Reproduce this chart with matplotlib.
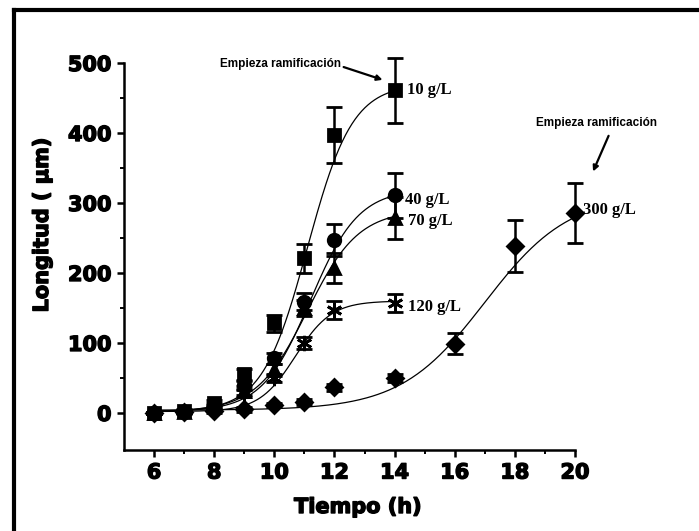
import numpy as np
import matplotlib
matplotlib.use("Agg")
import matplotlib.pyplot as plt
import matplotlib.patheffects as pe
from matplotlib.lines import Line2D

# sampling times (h)
t_short = [6, 7, 8, 9, 10, 11, 12, 14]
t_long = [6, 7, 8, 9, 10, 11, 12, 14, 16, 18, 20]

# hyphal length (um) and error, one list per sugar concentration
len_10 = [0, 3, 14, 55, 128, 221, 397, 461]
err_10 = [2, 3, 5, 8, 12, 21, 40, 46]
len_40 = [0, 2, 10, 40, 78, 159, 247, 311]
err_40 = [2, 2, 4, 6, 8, 12, 23, 32]
len_70 = [0, 2, 8, 32, 62, 150, 207, 278]
err_70 = [2, 2, 4, 6, 8, 12, 22, 30]
len_120 = [0, 2, 7, 28, 50, 100, 147, 157]
err_120 = [2, 2, 3, 5, 6, 8, 13, 13]
len_300 = [0, 1, 3, 5, 11, 16, 37, 50, 99, 238, 286]
err_300 = [2, 2, 2, 3, 3, 4, 5, 6, 15, 37, 43]

labels = ["10 g/L", "40 g/L", "70 g/L", "120 g/L", "300 g/L"]

# Boltzmann fit parameters: bottom, top, x0, dx
fit_10 = [2, 470, 11.1, 0.75]
fit_40 = [2, 320, 11.2, 0.8]
fit_70 = [2, 290, 11.1, 0.85]
fit_120 = [2, 160, 10.7, 0.6]
fit_300 = [4, 312, 17.0, 1.4]


def boltzmann(x, p):
    a1, a2, x0, dx = p
    return a2 + (a1 - a2) / (1 + np.exp((x - x0) / dx))


fig = plt.figure(figsize=(6.99, 5.31), dpi=100)
ax = fig.add_axes([0.1774, 0.1525, 0.6452, 0.7288])

series = [
    (t_short, len_10, err_10, fit_10, "s", 8),
    (t_short, len_40, err_40, fit_40, "o", 9),
    (t_short, len_70, err_70, fit_70, "^", 9),
    (t_short, len_120, err_120, fit_120, (6, 2, 0), 11),
    (t_long, len_300, err_300, fit_300, "D", 8),
]

for t, y, e, p, mk, ms in series:
    tt = np.linspace(t[0], t[-1], 300)
    ax.plot(tt, boltzmann(tt, p), color="k", lw=0.9, zorder=2)
    cont = ax.errorbar(t, y, yerr=e, marker=mk, linestyle="none", color="k",
                       ms=ms, mew=2, capsize=6, elinewidth=1.8, capthick=1.8,
                       zorder=3)
    for art in cont.get_children():
        art.set_clip_on(False)

# concentration labels next to the last point of each series
lab_font = dict(family="Liberation Serif", fontweight="bold", fontsize=12,
                va="center", ha="left")
ax.text(14.4, 461, labels[0], **lab_font)
ax.text(14.35, 304, labels[1], **lab_font)
ax.text(14.45, 274, labels[2], **lab_font)
ax.text(14.45, 151, labels[3], **lab_font)
ax.text(20.27, 290, labels[4], **lab_font)

note_font = dict(family="Liberation Sans", fontweight="bold", fontsize=8.5)
ax.annotate("Empieza ramificación", xy=(13.6, 476), xytext=(10.2, 499),
            ha="center", va="center", annotation_clip=False,
            arrowprops=dict(arrowstyle="-|>", color="k", lw=1.6,
                            relpos=(1.0, 0.3), shrinkA=0, shrinkB=0,
                            mutation_scale=8),
            **note_font)
ax.annotate("Empieza ramificación", xy=(20.6, 345), xytext=(20.73, 414),
            ha="center", va="center", annotation_clip=False,
            arrowprops=dict(arrowstyle="-|>", color="k", lw=1.6,
                            relpos=(0.62, 0.0), shrinkA=3, shrinkB=0,
                            mutation_scale=8),
            **note_font)

ax.set_xlim(5, 20)
ax.set_ylim(-53, 500)
ax.set_xticks(range(6, 21, 2))
ax.set_xticks(range(7, 21, 2), minor=True)
ax.set_yticks(range(0, 501, 100))
ax.set_yticks(range(50, 501, 100), minor=True)

for s in ["top", "right"]:
    ax.spines[s].set_visible(False)
for s in ["left", "bottom"]:
    ax.spines[s].set_linewidth(1.8)

heavy = [pe.withStroke(linewidth=1.0, foreground="k")]

ax.tick_params(which="major", direction="out", length=5, width=1.8, pad=4)
ax.tick_params(which="minor", direction="out", length=3, width=1.4)
for lbl in ax.get_xticklabels() + ax.get_yticklabels():
    lbl.set_fontfamily("DejaVu Sans")
    lbl.set_fontweight("bold")
    lbl.set_fontsize(15)
    lbl.set_path_effects(heavy)

fig.text(358 / 699, 1 - 507 / 531, "Tiempo (h)", ha="center", va="center",
         family="DejaVu Sans", fontweight="bold", fontsize=15, path_effects=heavy)
fig.text(42 / 699, 1 - 225 / 531, "Longitud ( μm)", ha="center", va="center",
         rotation=90, family="DejaVu Sans", fontweight="bold", fontsize=15,
         path_effects=heavy)

# heavy frame along the top and left edges of the page
fig.add_artist(Line2D([14 / 699, 14 / 699], [0, 1 - 10 / 531],
                      transform=fig.transFigure, color="k", lw=3, solid_capstyle="projecting"))
fig.add_artist(Line2D([14 / 699, 1], [1 - 10 / 531, 1 - 10 / 531],
                      transform=fig.transFigure, color="k", lw=3, solid_capstyle="projecting"))

fig.savefig("out.png", dpi=100)
